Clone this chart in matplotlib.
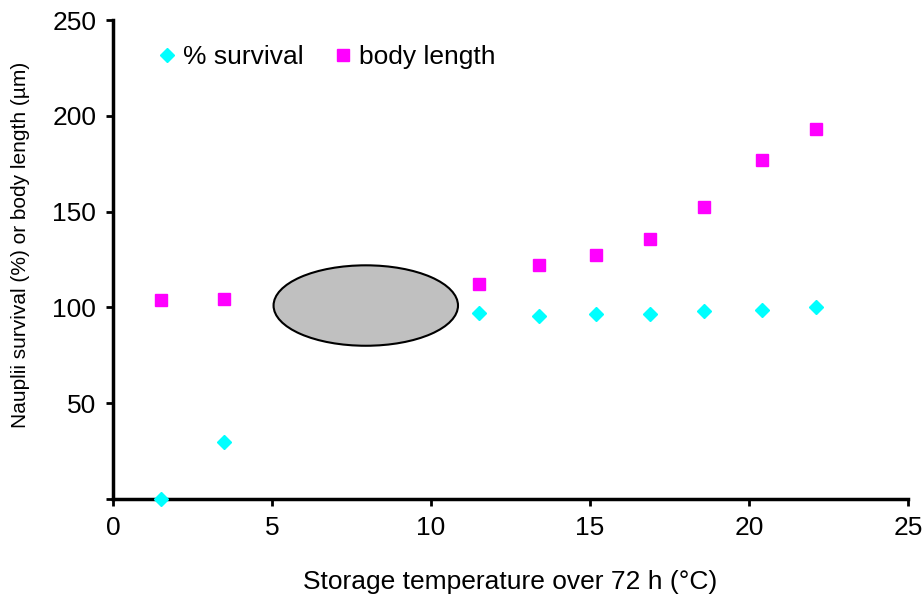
import matplotlib.pyplot as plt
from matplotlib.patches import Ellipse

plt.rcParams["font.family"] = ["Liberation Sans", "DejaVu Sans"]

# Storage temperature (deg C)
temp = [1.5, 3.5, 11.5, 13.4, 15.2, 16.9, 18.6, 20.4, 22.1]
survival = [0, 30, 97, 95.5, 96.5, 96.5, 98, 98.5, 100]
body_length = [104, 104.5, 112, 122, 127.5, 135.5, 152.5, 177, 193]

fig = plt.figure(figsize=(9.23, 5.94), dpi=100)
ax = fig.add_axes([0.1224, 0.16, 0.8613, 0.806])

ax.plot(temp, survival, "D", color="#00ffff", markersize=7.5, label="% survival",
        clip_on=False, zorder=5)
ax.plot(temp, body_length, "s", color="#ff00ff", markersize=8.5, label="body length",
        clip_on=False, zorder=5)

# Grey ellipse covering the unsampled gap
ax.add_patch(Ellipse((7.95, 101), 5.8, 42, facecolor="#c0c0c0", edgecolor="black",
                     linewidth=1.5, zorder=3))

ax.set_xlim(0, 25)
ax.set_ylim(0, 250)
ax.set_xticks([0, 5, 10, 15, 20, 25])
ax.set_yticks([0, 50, 100, 150, 200, 250])
ax.set_yticklabels(["", "50", "100", "150", "200", "250"])
ax.tick_params(direction="out", length=5, width=2, labelsize=19, pad=7)

for side in ["top", "right"]:
    ax.spines[side].set_visible(False)
for side in ["left", "bottom"]:
    ax.spines[side].set_linewidth(2.5)

ax.set_xlabel("Storage temperature over 72 h (°C)", fontsize=19, labelpad=22)
ax.set_ylabel("Nauplii survival (%) or body length (µm)", fontsize=15)
ax.yaxis.set_label_coords(-0.105, 0.53)

ax.legend(loc="upper left", bbox_to_anchor=(0.022, 0.997), ncol=2, frameon=False,
          fontsize=19, handletextpad=0.1, columnspacing=1.0, handlelength=1)

fig.savefig("out.png", dpi=100)
